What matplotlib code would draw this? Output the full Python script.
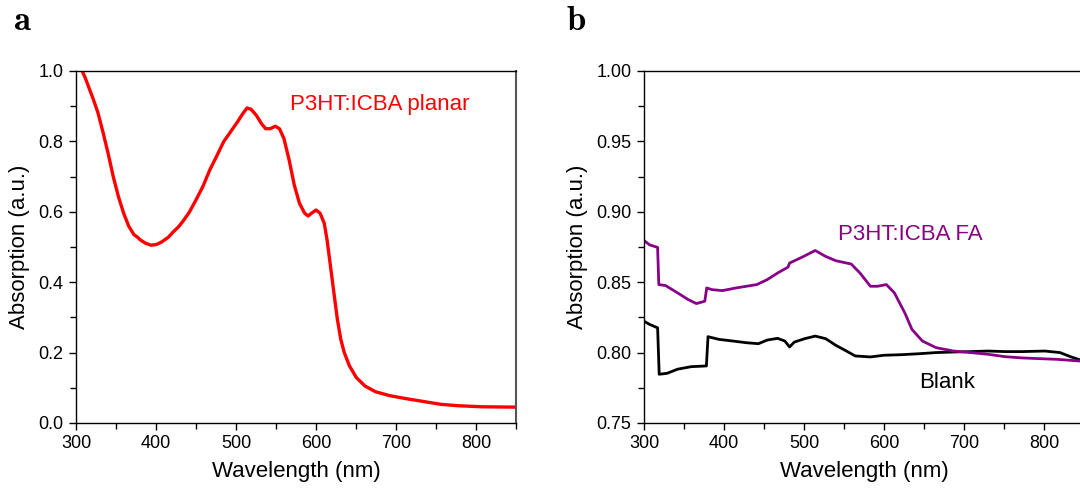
import matplotlib
matplotlib.use("Agg")
import matplotlib.pyplot as plt
from matplotlib.ticker import MultipleLocator, FormatStrFormatter

plt.rcParams["font.family"] = ["Liberation Sans", "DejaVu Sans"]
plt.rcParams["mathtext.fontset"] = "cm"

# panel a: P3HT:ICBA planar film
wl_a = [307.8, 312.1, 317.2, 320.7, 327.2, 333.6, 340.1, 346.5, 353.0, 359.5,
        365.9, 372.4, 376.7, 381.0, 387.5, 394.0, 400.4, 406.9, 415.5, 422.0,
        428.4, 434.9, 441.4, 450.0, 458.6, 467.2, 475.8, 484.5, 493.1, 501.7,
        508.2, 513.8, 518.9, 525.4, 531.9, 537.1, 542.7, 549.1, 554.3, 559.9,
        566.4, 572.8, 579.3, 585.8, 590.1, 594.4, 600.0, 605.1, 610.3, 613.8,
        618.1, 622.4, 626.7, 631.0, 635.3, 641.8, 650.4, 661.2, 674.1, 691.3,
        712.9, 734.4, 756.0, 777.5, 807.7, 850.0]
abs_a = [1.000, 0.977, 0.946, 0.925, 0.883, 0.827, 0.766, 0.700, 0.643, 0.596,
         0.559, 0.535, 0.528, 0.519, 0.510, 0.505, 0.507, 0.514, 0.528, 0.544,
         0.558, 0.577, 0.598, 0.634, 0.672, 0.719, 0.758, 0.799, 0.827, 0.855,
         0.878, 0.895, 0.891, 0.874, 0.850, 0.836, 0.836, 0.843, 0.836, 0.808,
         0.747, 0.676, 0.624, 0.596, 0.588, 0.596, 0.605, 0.596, 0.567, 0.520,
         0.445, 0.369, 0.294, 0.237, 0.200, 0.162, 0.129, 0.105, 0.089, 0.078,
         0.069, 0.061, 0.053, 0.049, 0.046, 0.045]

# panel b: P3HT:ICBA FA and blank
wl_fa = [300, 307, 317, 318.5, 327, 342, 355, 365.5, 376, 378.4, 385, 398, 415,
         441, 454, 467, 480, 482, 497, 514, 527, 540, 559, 570, 583, 592, 603,
         613, 626, 635, 648, 665, 687, 708, 730, 751, 773, 794, 816, 850]
abs_fa = [0.8796, 0.8765, 0.8747, 0.8483, 0.8476, 0.8424, 0.8377, 0.8348,
          0.8365, 0.8459, 0.8447, 0.8440, 0.8459, 0.8483, 0.8518, 0.8565,
          0.8607, 0.8636, 0.8676, 0.8725, 0.8683, 0.8652, 0.8629, 0.8565,
          0.8471, 0.8471, 0.8483, 0.8424, 0.8282, 0.8164, 0.8082, 0.8035,
          0.8011, 0.8000, 0.7988, 0.7971, 0.7962, 0.7957, 0.7952, 0.7938]

wl_blank = [300, 307, 317, 319, 329, 342, 359, 378, 380, 393.5, 411, 428, 443,
            454, 467, 476, 482, 488, 501, 514, 527, 540, 553, 564, 583, 600,
            622, 644, 665, 687, 708, 730, 751, 773, 801, 820, 833, 850]
abs_blank = [0.8223, 0.8200, 0.8176, 0.7846, 0.7853, 0.7882, 0.7900, 0.7905,
             0.8113, 0.8094, 0.8082, 0.8070, 0.8063, 0.8089, 0.8101, 0.8082,
             0.8040, 0.8075, 0.8099, 0.8117, 0.8099, 0.8051, 0.8011, 0.7976,
             0.7969, 0.7981, 0.7985, 0.7992, 0.8000, 0.8004, 0.8007, 0.8011,
             0.8007, 0.8007, 0.8011, 0.8000, 0.7971, 0.7938]

PURPLE = "#880088"

fig = plt.figure(figsize=(10.8, 4.95), dpi=100)
ax_a = fig.add_axes([0.0704, 0.1455, 0.4074, 0.7111])
ax_b = fig.add_axes([0.5963, 0.1455, 0.4074, 0.7111])


def style(ax, ymin, ymax, ymaj, fmt):
    ax.set_xlim(300, 850)
    ax.set_ylim(ymin, ymax)
    ax.xaxis.set_major_locator(MultipleLocator(100))
    ax.xaxis.set_minor_locator(MultipleLocator(50))
    ax.yaxis.set_major_locator(MultipleLocator(ymaj))
    ax.yaxis.set_minor_locator(MultipleLocator(ymaj / 2))
    ax.yaxis.set_major_formatter(FormatStrFormatter(fmt))
    ax.tick_params(which="both", direction="out", top=False, right=False,
                   width=1.0, labelsize=13, pad=4)
    ax.tick_params(which="major", length=5)
    ax.tick_params(which="minor", length=4)
    for s in ["left", "bottom", "top"]:
        ax.spines[s].set_linewidth(1.0)
    ax.spines["right"].set_color("#555555")
    ax.spines["right"].set_linewidth(1.5)
    ax.set_xlabel("Wavelength (nm)", fontsize=16, labelpad=6)
    ax.set_ylabel("Absorption (a.u.)", fontsize=16, labelpad=6)


ax_a.plot(wl_a, abs_a, color="#ff0000", lw=2.4, solid_joinstyle="round")
style(ax_a, 0.0, 1.0, 0.2, "%.1f")
ax_a.text(567, 0.906, "P3HT:ICBA planar", color="#ff0000", fontsize=16,
          va="center", ha="left")

ax_b.plot(wl_blank, abs_blank, color="black", lw=2.0)
ax_b.plot(wl_fa, abs_fa, color=PURPLE, lw=2.0)
style(ax_b, 0.75, 1.00, 0.05, "%.2f")
ax_b.text(542, 0.884, "P3HT:ICBA FA", color=PURPLE, fontsize=16,
          va="center", ha="left")
ax_b.text(644, 0.779, "Blank", color="black", fontsize=16,
          va="center", ha="left")

fig.text(13 / 1080, 1 - 30 / 495, r"$\mathbf{a}$", fontsize=25, ha="left",
         va="baseline")
fig.text(566 / 1080, 1 - 30 / 495, r"$\mathbf{b}$", fontsize=25, ha="left",
         va="baseline")

fig.savefig("out.png", dpi=100)
